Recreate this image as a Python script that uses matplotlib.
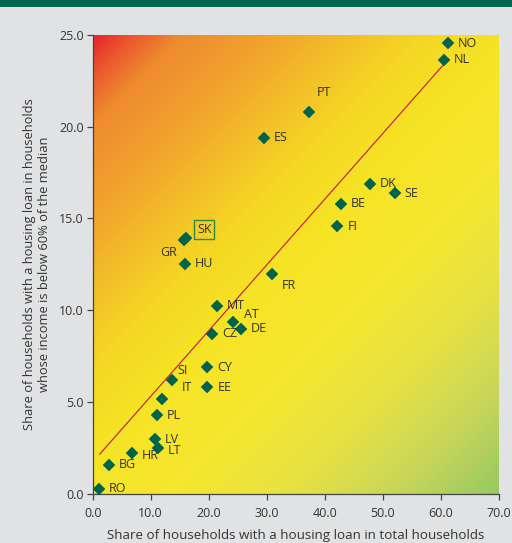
import numpy as np
import matplotlib
matplotlib.use("Agg")
import matplotlib.pyplot as plt
from matplotlib.colors import LinearSegmentedColormap
from matplotlib.patches import Rectangle

plt.rcParams['font.family'] = ['Open Sans', 'DejaVu Sans']

# ---- data ----
countries = ["NO", "NL", "PT", "ES", "DK", "SE", "BE", "FI", "FR", "SK", "GR", "HU",
             "MT", "AT", "DE", "CZ", "CY", "EE", "SI", "IT", "PL", "LV", "LT", "HR", "BG", "RO"]
share_total = [61.3, 60.6, 37.3, 29.5, 47.8, 52.1, 42.8, 42.2, 30.9, 16.1, 15.7, 15.9,
               21.4, 24.2, 25.6, 20.6, 19.7, 19.8, 13.6, 12.0, 11.1, 10.7, 11.3, 6.8, 2.8, 1.15]
share_low_income = [24.55, 23.65, 20.8, 19.4, 16.9, 16.37, 15.8, 14.57, 12.0, 13.92, 13.85, 12.52,
                    10.23, 9.34, 8.98, 8.72, 6.9, 5.8, 6.21, 5.16, 4.27, 2.98, 2.5, 2.2, 1.58, 0.27]
trend_x = [1.2, 61.4]
trend_y = [2.15, 23.7]
x_ticks = [0, 10, 20, 30, 40, 50, 60, 70]
y_ticks = [0, 5, 10, 15, 20, 25]
x_label = "Share of households with a housing loan in total households"
y_label = "Share of households with a housing loan in households\nwhose income is below 60% of the median"

# label offsets in pixels (dx right, dy up), alignment
label_pos = {
    "NO": (10, 0, "left"), "NL": (10, 0, "left"), "PT": (8, 20, "left"),
    "ES": (10, 0, "left"), "DK": (10, 0, "left"), "SE": (10, 0, "left"),
    "BE": (10, 0, "left"), "FI": (10, 0, "left"), "FR": (10, -12, "left"),
    "SK": (11, 9, "left"), "GR": (-7, -13, "right"), "HU": (10, 0, "left"),
    "MT": (10, 0, "left"), "AT": (11, 8, "left"), "DE": (10, 0, "left"),
    "CZ": (10, 0, "left"), "CY": (10, 0, "left"), "EE": (10, 0, "left"),
    "SI": (6, 9, "left"), "IT": (19, 12, "left"), "PL": (10, 0, "left"),
    "LV": (10, 0, "left"), "LT": (10, -3, "left"), "HR": (10, -2, "left"),
    "BG": (10, 0, "left"), "RO": (9, 0, "left"),
}

W, H, DPI = 512, 543, 100
fig = plt.figure(figsize=(W / DPI, H / DPI), dpi=DPI)
fig.patch.set_facecolor("#e1e2e4")

# header band
fig.patches.append(Rectangle((0, 1 - 7 / H), 1, 7 / H, transform=fig.transFigure,
                             facecolor="#00664e", edgecolor="none", zorder=0))

ax = fig.add_axes([92.7 / W, (H - 493.7) / H, 405.8 / W, 458.7 / H])

# gradient background (row 0 = top of plot)
stops = [(0.0, "#e6262b"), (0.04, "#ea522c"), (0.10, "#ee8a30"), (0.20, "#f1a22d"),
         (0.30, "#f3bf29"), (0.38, "#f5d623"), (0.48, "#f6e325"), (0.62, "#f5e72f"),
         (0.75, "#e8e242"), (0.88, "#c8d65a"), (1.0, "#96c962")]
cmap = LinearSegmentedColormap.from_list("bg", stops)
nx, ny = 406, 459
xx, yy = np.meshgrid(np.arange(nx), np.arange(ny))
t = (xx + yy) / (nx + ny - 2)
ax.imshow(t, cmap=cmap, extent=[0, 70, 0, 25], aspect="auto", origin="upper",
          vmin=0, vmax=1, zorder=0, interpolation="bilinear")
ax.set_xlim(0, 70)
ax.set_ylim(0, 25)

# trend line
ax.plot(trend_x, trend_y, color="#c41740", lw=0.8, zorder=2)

# markers
ax.plot(share_total, share_low_income, linestyle="none", marker="D", ms=6.0,
        color="#00634b", mec="#00634b", mew=0.3, zorder=3)

for c, x, y in zip(countries, share_total, share_low_income):
    dx, dy, ha = label_pos[c]
    kw = {}
    if c == "SK":
        kw["bbox"] = dict(boxstyle="square,pad=0.22", fc="none", ec="#2e8b3a", lw=1.0)
    ax.annotate(c, (x, y), xytext=(dx * 0.72, dy * 0.72), textcoords="offset points",
                ha=ha, va="center", fontsize=9, color="#333333", zorder=4, **kw)

ax.set_xticks(x_ticks)
ax.set_yticks(y_ticks)
ax.set_xticklabels([f"{v:.1f}" for v in x_ticks])
ax.set_yticklabels([f"{v:.1f}" for v in y_ticks])
ax.tick_params(direction="out", length=4.5, width=0.9, colors="#444444",
               labelsize=9, labelcolor="#333333", pad=2)
ax.tick_params(axis="x", pad=5)
for s in ["top", "right"]:
    ax.spines[s].set_visible(False)
for s in ["left", "bottom"]:
    ax.spines[s].set_color("#444444")
    ax.spines[s].set_linewidth(0.9)

ax.set_xlabel(x_label, fontsize=9.6, color="#333333", labelpad=6.5)
ax.set_ylabel(y_label, fontsize=9.3, color="#333333", labelpad=6, linespacing=1.2)

fig.savefig("out.png", dpi=DPI, facecolor=fig.get_facecolor())
